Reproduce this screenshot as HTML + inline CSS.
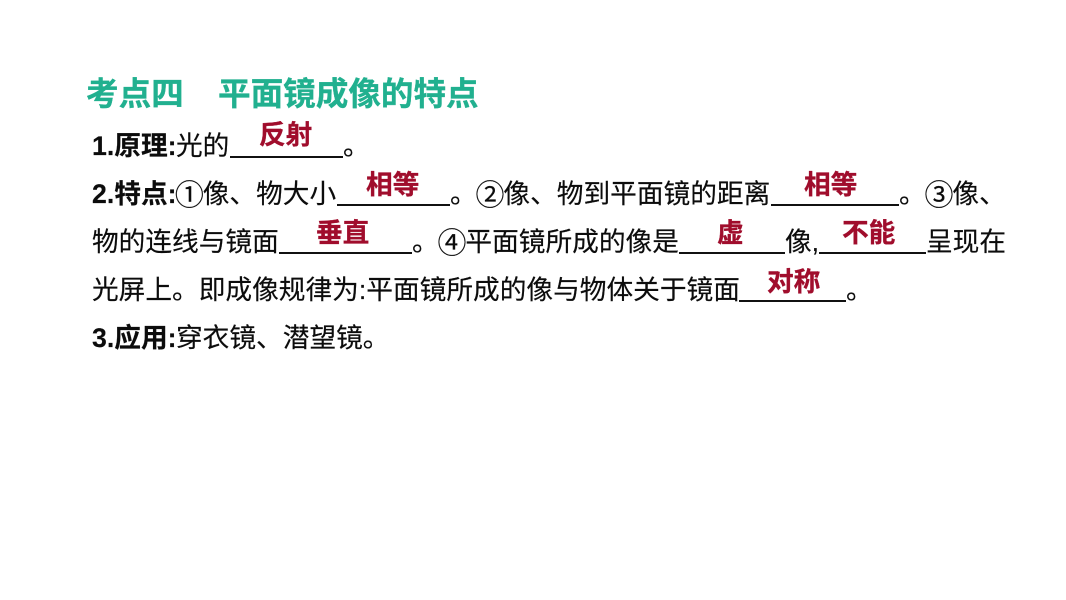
<!DOCTYPE html>
<html lang="zh-CN"><head><meta charset="utf-8"><style>
html,body{margin:0;padding:0;background:#fff}
#p{position:relative;width:1066px;height:600px;overflow:hidden;background:#fff;font-family:"Liberation Sans","Noto Sans CJK SC",sans-serif;color:#0c0c0c}
#p span{position:absolute;white-space:nowrap;line-height:40px;font-size:26.7px;-webkit-text-stroke:.15px #0c0c0c}
#p .b{font-weight:bold}
#p .t{font-size:32.6px;font-weight:bold;color:#21b08f;-webkit-text-stroke:.3px #21b08f}
#p .r{font-weight:bold;color:#a00d2c;-webkit-text-stroke:.3px #a00d2c}
#p i{position:absolute;height:2px;background:#111}
#p u{text-decoration:none;font-size:29px;line-height:0;margin:0 -1.15px;position:relative;top:1.5px}
</style></head><body><div id="p">
<span class="t" style="left:86px;top:74px">考点四</span>
<span class="t" style="left:218px;top:74px">平面镜成像的特点</span>

<span class="b" style="left:92px;top:126px">1.原理:</span><span style="left:176px;top:126px">光的</span>
<i style="left:230px;top:156px;width:113px"></i><span style="left:343px;top:126px">。</span>
<span class="r" style="left:259px;top:115px">反射</span>

<span class="b" style="left:92px;top:174px">2.特点:</span><span style="left:176px;top:174px"><u>①</u>像、物大小</span>
<i style="left:337px;top:204px;width:113px"></i><span style="left:450px;top:174px">。<u>②</u>像、物到平面镜的距离</span>
<i style="left:771px;top:204px;width:128px"></i><span style="left:899px;top:174px">。<u>③</u>像、</span>
<span class="r" style="left:366px;top:165px">相等</span>
<span class="r" style="left:804px;top:165px">相等</span>

<span style="left:92px;top:222px">物的连线与镜面</span>
<i style="left:279px;top:252px;width:133px"></i><span style="left:412px;top:222px">。<u>④</u>平面镜所成的像是</span>
<i style="left:679px;top:252px;width:106px"></i><span style="left:785px;top:222px">像,</span>
<i style="left:819px;top:252px;width:107px"></i><span style="left:926px;top:222px">呈现在</span>
<span class="r" style="left:316px;top:213px">垂直</span>
<span class="r" style="left:717px;top:213px">虚</span>
<span class="r" style="left:842px;top:213px">不能</span>

<span style="left:92px;top:270px">光屏上。即成像规律为:平面镜所成的像与物体关于镜面</span>
<i style="left:739px;top:300px;width:107px"></i><span style="left:846px;top:270px">。</span>
<span class="r" style="left:767px;top:262px">对称</span>

<span class="b" style="left:92px;top:318px">3.应用:</span><span style="left:176px;top:318px">穿衣镜、潜望镜。</span>
</div></body></html>
